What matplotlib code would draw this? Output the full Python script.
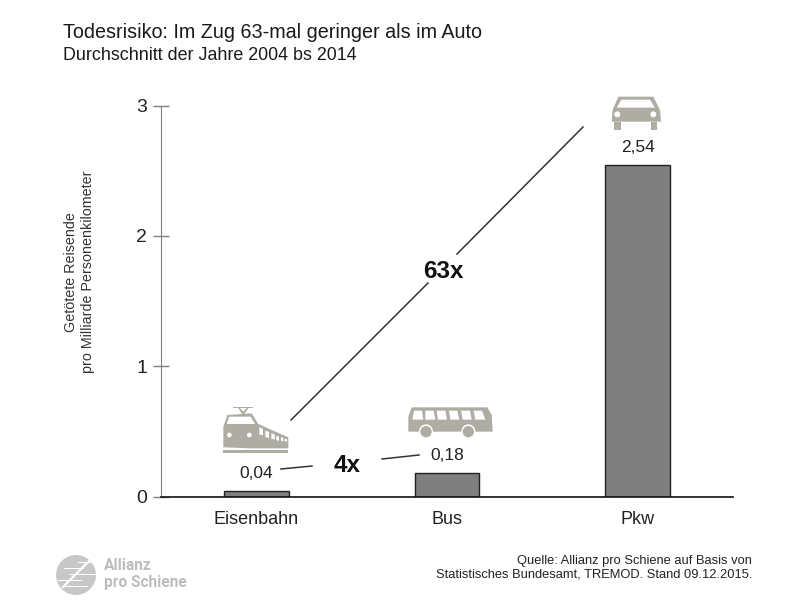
import matplotlib
matplotlib.use("Agg")
import matplotlib.pyplot as plt
from matplotlib.patches import Polygon, Circle, Rectangle

plt.rcParams['font.family'] = ['Liberation Sans', 'DejaVu Sans']

categories = ["Eisenbahn", "Bus", "Pkw"]
values = [0.04, 0.18, 2.54]
value_labels = ["0,04", "0,18", "2,54"]
y_ticks = [0, 1, 2, 3]

W, H = 800, 612
icon_col = "#aeaca3"
text_col = "#222222"

fig = plt.figure(figsize=(8, 6.12), dpi=100)

# Hauptachse, Position in Pixeln des Originals
ax = fig.add_axes([161 / W, 1 - 496.5 / H, (733 - 161) / W, (496.5 - 105.5) / H])
x = list(range(len(categories)))
ax.bar(x, values, width=0.34, color="#7f7f7f", edgecolor="#222222", linewidth=1.0, zorder=2)
ax.set_xlim(-0.5, 2.5)
ax.set_ylim(0, 3)
ax.set_xticks(x)
ax.set_xticklabels(categories, fontsize=13, color=text_col)
ax.set_yticks(y_ticks)
ax.set_yticklabels([str(t) for t in y_ticks], fontsize=14, color=text_col)
ax.tick_params(axis="x", length=0, pad=10.5)
ax.tick_params(axis="y", direction="inout", length=12, width=1, color="#808080", pad=4)
ax.spines["top"].set_visible(False)
ax.spines["right"].set_visible(False)
ax.spines["left"].set_color("#808080")
ax.spines["bottom"].set_color("#111111")
ax.spines["bottom"].set_linewidth(1.2)
for i, lab in enumerate(value_labels):
    ax.annotate(lab, (x[i], values[i]), xytext=(0, 7.5), textcoords="offset points",
                ha="center", va="bottom", fontsize=12.5, color=text_col)

# Overlay in Pixelkoordinaten fuer Texte, Linien, Icons
ov = fig.add_axes([0, 0, 1, 1], facecolor="none")
ov.set_xlim(0, W)
ov.set_ylim(H, 0)
ov.axis("off")

ov.text(63, 32, "Todesrisiko: Im Zug 63-mal geringer als im Auto", fontsize=14.25,
        color="#1a1a1a", va="center")
ov.text(63, 56, "Durchschnitt der Jahre 2004 bs 2014", fontsize=12.9,
        color="#1a1a1a", va="center")
ov.text(79.5, 272, "Getötete Reisende\npro Milliarde Personenkilometer", fontsize=10.3,
        color="#333333", rotation=90, ha="center", va="center", linespacing=1.2)
ov.text(443, 272, "63x", fontsize=17.5, fontweight="bold", color="#111111", ha="center", va="center")
ov.text(347, 465, "4x", fontsize=17.5, fontweight="bold", color="#111111", ha="center", va="center")
ov.text(752, 568, "Quelle: Allianz pro Schiene auf Basis von\nStatistisches Bundesamt, TREMOD. Stand 09.12.2015.",
        fontsize=9.3, color="#222222", ha="right", va="center", multialignment="right", linespacing=1.2)

for (x0, y0, x1, y1) in [(291, 420, 428, 283), (457, 254, 583, 127),
                         (281, 469, 312, 466), (382, 459, 419, 455)]:
    ov.plot([x0, x1], [y0, y1], color="#333333", lw=1.1)


def poly(pts, ox, oy, col=icon_col):
    # Punkte aus dem 3x-Zoom
    ov.add_patch(Polygon([(ox + a / 3, oy + b / 3) for a, b in pts], closed=True, fc=col, ec="none"))


def circ(a, b, r, ox, oy, col=icon_col, **kw):
    ov.add_patch(Circle((ox + a / 3, oy + b / 3), r / 3, fc=col, **kw))


# Zug
ox, oy = 210, 400
poly([(40, 142), (40, 80), (52, 45), (125, 40), (145, 72), (235, 112), (235, 145), (120, 145)], ox, oy)
poly([(50, 72), (58, 50), (122, 50), (135, 72)], ox, oy, "white")
circ(58, 105, 7, ox, oy, "white", ec="none")
circ(118, 105, 7, ox, oy, "white", ec="none")
for a0, a1, t0, t1, b in [(148, 159, 82, 87, 106), (166, 177, 92, 96, 114), (184, 194, 100, 103, 119),
                          (199, 207, 107, 110, 123), (213, 220, 112, 114, 125), (224, 231, 116, 118, 126)]:
    poly([(a0, t0), (a1, t1), (a1, b), (a0, b - 3)], ox, oy, "white")
poly([(38, 150), (235, 150), (235, 160), (38, 160)], ox, oy)
poly([(68, 20), (130, 20), (130, 24), (68, 24)], ox, oy)
poly([(85, 24), (90, 24), (100, 35), (110, 24), (115, 24), (102, 44), (97, 44)], ox, oy)

# Bus
ox, oy = 400, 400
poly([(35, 22), (262, 22), (275, 45), (278, 95), (25, 95), (25, 50)], ox, oy)
for a0, a1, a2, a3 in [(42, 66, 70, 37), (76, 101, 106, 76), (110, 136, 141, 114),
                       (147, 172, 178, 151), (183, 210, 215, 188), (221, 246, 256, 226)]:
    poly([(a0, 32), (a1, 32), (a2, 59), (a3, 59)], ox, oy, "white")
for a in [78, 205]:
    circ(a, 94, 21, ox, oy, "white", ec="none")
    circ(a, 95, 17, ox, oy, icon_col, ec="none")

# Auto
ox, oy = 590, 85
poly([(85, 35), (190, 35), (210, 75), (213, 110), (65, 110), (68, 75)], ox, oy)
poly([(94, 44), (180, 44), (195, 68), (80, 68)], ox, oy, "white")
circ(82, 88, 9, ox, oy, "white", ec="none")
circ(190, 88, 9, ox, oy, "white", ec="none")
poly([(72, 112), (92, 112), (92, 135), (72, 135)], ox, oy)
poly([(182, 112), (202, 112), (202, 135), (182, 135)], ox, oy)

# Logo
logo_col = "#c8c8c8"
ov.add_patch(Circle((76, 575), 20, fc=logo_col, ec="none"))
for y0, x0, x1 in [(562, 78, 92), (568, 64, 84), (574, 70, 96), (580, 58, 82), (586, 64, 88)]:
    ov.add_patch(Rectangle((x0, y0), x1 - x0, 1.4, fc="white", ec="none"))
ov.plot([63, 90], [587, 560], color="white", lw=1.6)
ov.text(104, 565, "Allianz", fontsize=11.2, fontweight="bold", color="#bdbdbd", va="center", family="Roboto")
ov.text(104, 583, "pro Schiene", fontsize=11.2, fontweight="bold", color="#bdbdbd", va="center", family="Roboto")

fig.savefig("out.png", dpi=100)
